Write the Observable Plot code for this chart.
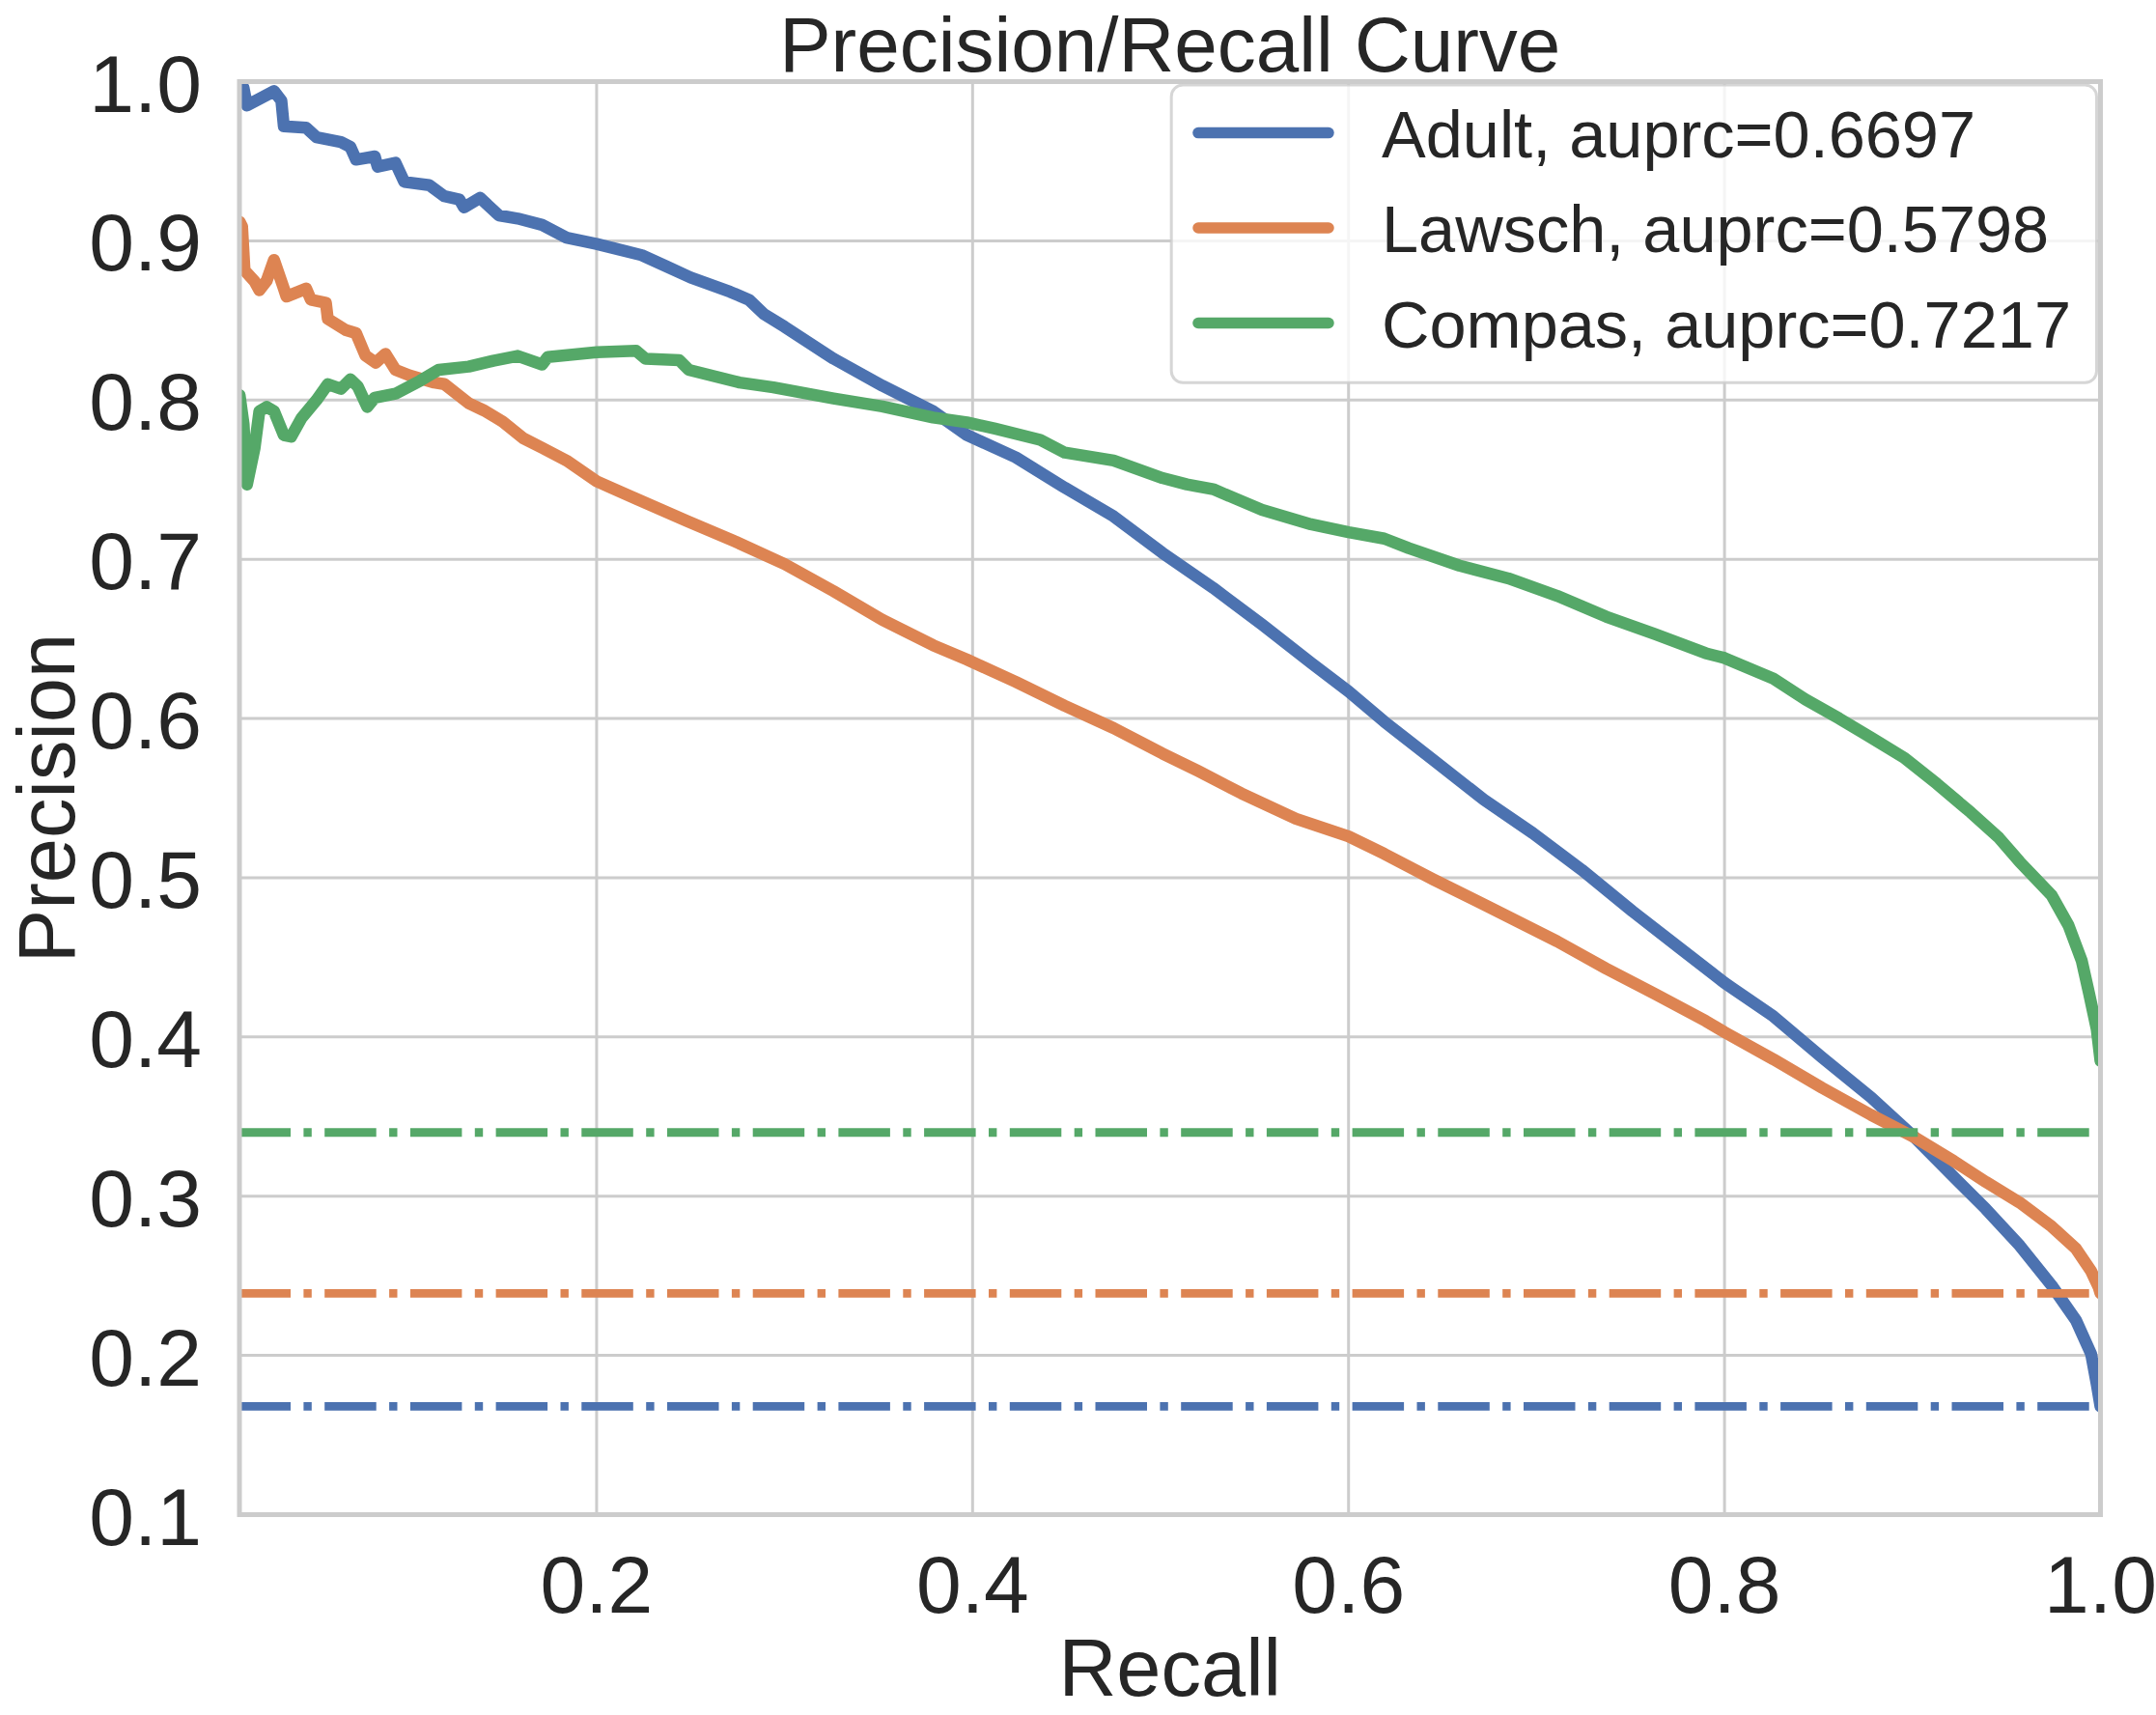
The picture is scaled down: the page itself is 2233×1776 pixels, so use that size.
<!DOCTYPE html>
<html>
<head>
<meta charset="utf-8">
<script src="https://cdn.jsdelivr.net/npm/d3@7"></script>
<script src="https://cdn.jsdelivr.net/npm/@observablehq/plot@0.6"></script>
<style>
  html, body { margin: 0; padding: 0; background: white; overflow: hidden; }
  #chart svg { display: block; }
</style>
</head>
<body>
<div id="chart"></div>
<script>
// ---- data ----
const seriesNames = ["Adult", "Lawsch", "Compas"];
const seriesAuprc = ["0.6697", "0.5798", "0.7217"];
const seriesColors = ["#4C72B0", "#DD8452", "#55A868"];
const baselinePrecision = [0.168, 0.239, 0.34];

const adultRecall = [0.0101, 0.0122, 0.0140, 0.0284, 0.0323, 0.0336, 0.0455, 0.051, 0.064, 0.069, 0.072, 0.082, 0.0835, 0.093, 0.0977, 0.111, 0.119, 0.127, 0.1294, 0.138, 0.148, 0.158, 0.171, 0.184, 0.200, 0.224, 0.237, 0.250, 0.271, 0.281, 0.289, 0.300, 0.326, 0.352, 0.379, 0.397, 0.423, 0.449, 0.475, 0.501, 0.528, 0.554, 0.580, 0.600, 0.619, 0.645, 0.672, 0.698, 0.724, 0.751, 0.776, 0.800, 0.826, 0.852, 0.878, 0.901, 0.922, 0.939, 0.957, 0.974, 0.987, 0.995, 0.998, 1.000];
const adultPrecision = [0.999, 0.996, 0.985, 0.994, 0.988, 0.972, 0.971, 0.965, 0.962, 0.959, 0.951, 0.953, 0.9465, 0.949, 0.937, 0.935, 0.928, 0.926, 0.921, 0.927, 0.916, 0.914, 0.910, 0.902, 0.898, 0.891, 0.884, 0.877, 0.868, 0.863, 0.854, 0.846, 0.826, 0.809, 0.793, 0.778, 0.764, 0.745, 0.727, 0.704, 0.682, 0.659, 0.635, 0.617, 0.598, 0.574, 0.549, 0.528, 0.505, 0.479, 0.456, 0.434, 0.413, 0.387, 0.362, 0.337, 0.312, 0.292, 0.269, 0.244, 0.222, 0.201, 0.182, 0.168];

const lawschRecall = [0.0101, 0.0114, 0.0127, 0.018, 0.0206, 0.0245, 0.0284, 0.0336, 0.035, 0.0455, 0.048, 0.056, 0.057, 0.0665, 0.072, 0.077, 0.0825, 0.0877, 0.093, 0.1005, 0.1136, 0.119, 0.132, 0.140, 0.150, 0.161, 0.171, 0.184, 0.200, 0.221, 0.248, 0.274, 0.300, 0.326, 0.352, 0.379, 0.397, 0.423, 0.449, 0.475, 0.501, 0.520, 0.543, 0.572, 0.600, 0.619, 0.645, 0.674, 0.711, 0.737, 0.763, 0.790, 0.800, 0.826, 0.852, 0.878, 0.901, 0.922, 0.939, 0.957, 0.974, 0.987, 0.995, 0.999, 1.000];
const lawschPrecision = [0.912, 0.909, 0.8815, 0.8746, 0.869, 0.875, 0.888, 0.870, 0.865, 0.870, 0.863, 0.861, 0.851, 0.844, 0.842, 0.828, 0.8235, 0.829, 0.819, 0.8155, 0.811, 0.810, 0.798, 0.7935, 0.7865, 0.776, 0.770, 0.762, 0.749, 0.738, 0.724, 0.711, 0.697, 0.680, 0.662, 0.646, 0.637, 0.623, 0.608, 0.594, 0.578, 0.567, 0.553, 0.537, 0.526, 0.515, 0.499, 0.482, 0.460, 0.443, 0.427, 0.410, 0.403, 0.386, 0.368, 0.351, 0.337, 0.322, 0.309, 0.296, 0.281, 0.267, 0.253, 0.243, 0.239];

const compasRecall = [0.0101, 0.0122, 0.0140, 0.0180, 0.0206, 0.0245, 0.0284, 0.0336, 0.0375, 0.043, 0.051, 0.057, 0.064, 0.069, 0.073, 0.078, 0.082, 0.093, 0.106, 0.116, 0.132, 0.145, 0.158, 0.171, 0.174, 0.200, 0.221, 0.226, 0.244, 0.249, 0.276, 0.294, 0.326, 0.352, 0.379, 0.397, 0.412, 0.436, 0.449, 0.475, 0.501, 0.514, 0.528, 0.554, 0.580, 0.600, 0.619, 0.632, 0.659, 0.685, 0.711, 0.737, 0.763, 0.790, 0.800, 0.826, 0.843, 0.861, 0.878, 0.896, 0.913, 0.931, 0.946, 0.957, 0.974, 0.983, 0.990, 0.994, 0.998, 1.000];
const compasPrecision = [0.803, 0.785, 0.747, 0.7695, 0.793, 0.7957, 0.793, 0.778, 0.777, 0.7887, 0.800, 0.810, 0.807, 0.813, 0.8085, 0.7957, 0.8015, 0.804, 0.812, 0.819, 0.821, 0.8247, 0.8277, 0.8223, 0.827, 0.830, 0.831, 0.826, 0.825, 0.819, 0.811, 0.808, 0.801, 0.796, 0.789, 0.786, 0.782, 0.775, 0.767, 0.762, 0.751, 0.747, 0.744, 0.731, 0.722, 0.717, 0.713, 0.707, 0.696, 0.688, 0.677, 0.664, 0.653, 0.641, 0.638, 0.625, 0.612, 0.600, 0.588, 0.575, 0.559, 0.541, 0.525, 0.510, 0.489, 0.470, 0.448, 0.427, 0.405, 0.385];

const xDomain = [0.01, 1.0];
const yDomain = [0.1, 1.0];
const xTicks = [0.2, 0.4, 0.6, 0.8, 1.0];
const yTicks = [0.1, 0.2, 0.3, 0.4, 0.5, 0.6, 0.7, 0.8, 0.9, 1.0];

const titleText = "Precision/Recall Curve";
const xLabel = "Recall";
const yLabel = "Precision";

// ---- build tables ----
const recalls = [adultRecall, lawschRecall, compasRecall];
const precisions = [adultPrecision, lawschPrecision, compasPrecision];
const curves = seriesNames.map((name, i) =>
  recalls[i].map((r, j) => ({series: name, recall: r, precision: precisions[i][j]})));
const baselines = seriesNames.map((name, i) => ({series: name, precision: baselinePrecision[i]}));

const FONT = "'Liberation Sans', Arial, Helvetica, sans-serif";
const INK = "#262626";
const GRID = "#cccccc";

const seriesMarks = [];
seriesNames.forEach((name, i) => {
  seriesMarks.push(Plot.line(curves[i], {
    x: "recall", y: "precision", stroke: "series",
    strokeWidth: 12.5, strokeLinejoin: "round", strokeLinecap: "round", clip: true
  }));
  seriesMarks.push(Plot.ruleY([baselines[i]], {
    y: "precision", x1: xDomain[0], x2: xDomain[1], stroke: "series",
    strokeWidth: 8.8, strokeDasharray: "53.5,13.4,8.4,13.4"
  }));
});

const chart = Plot.plot({
  width: 2233,
  height: 1776,
  marginLeft: 247.5,
  marginRight: 58,
  marginTop: 84,
  marginBottom: 208,
  x: {domain: xDomain, axis: null},
  y: {domain: yDomain, axis: null},
  color: {domain: seriesNames, range: seriesColors},
  style: {fontFamily: FONT, color: INK, background: "white"},
  marks: [
    Plot.ruleX(xTicks, {x: d => d, stroke: GRID, strokeWidth: 3}),
    Plot.ruleY(yTicks, {y: d => d, stroke: GRID, strokeWidth: 3}),
    ...seriesMarks,
    Plot.frame({stroke: GRID, strokeWidth: 5}),
    Plot.text(yTicks, {y: d => d, text: d => d.toFixed(1), frameAnchor: "left",
      textAnchor: "end", lineAnchor: "bottom", dx: -39, dy: 31, fontSize: 84, fill: INK}),
    Plot.text(xTicks, {x: d => d, text: d => d.toFixed(1), frameAnchor: "bottom",
      textAnchor: "middle", lineAnchor: "bottom", dy: 101, fontSize: 84, fill: INK}),
    Plot.text([xLabel], {text: d => d, frameAnchor: "bottom", textAnchor: "middle",
      lineAnchor: "bottom", dy: 187, fontSize: 83, fill: INK}),
    Plot.text([yLabel], {text: d => d, frameAnchor: "left", textAnchor: "middle",
      lineAnchor: "bottom", rotate: -90, dx: -171, fontSize: 83, fill: INK}),
    Plot.text([titleText], {text: d => d, frameAnchor: "top", textAnchor: "middle",
      lineAnchor: "bottom", dy: -11, fontSize: 80, fill: INK})
  ]
});

// ---- legend (upper right, inside the axes) ----
const svg = d3.select(chart);
const lg = svg.append("g").attr("font-family", FONT).attr("text-anchor", "start");
lg.append("rect")
  .attr("x", 1213.2).attr("y", 88).attr("width", 958.3).attr("height", 308.3)
  .attr("rx", 12).attr("ry", 12)
  .attr("fill", "white").attr("fill-opacity", 0.8)
  .attr("stroke", GRID).attr("stroke-opacity", 0.8).attr("stroke-width", 3);
seriesNames.forEach((name, i) => {
  const cy = 137.6 + i * 98.45;
  lg.append("line")
    .attr("x1", 1241).attr("x2", 1376).attr("y1", cy).attr("y2", cy)
    .attr("stroke", seriesColors[i]).attr("stroke-width", 11.5).attr("stroke-linecap", "round");
  lg.append("text")
    .attr("x", 1431).attr("y", cy + 25)
    .attr("text-anchor", "start")
    .attr("font-size", 68.5).attr("fill", INK)
    .text(`${name}, auprc=${seriesAuprc[i]}`);
});

document.getElementById("chart").appendChild(chart);
</script>
</body>
</html>
